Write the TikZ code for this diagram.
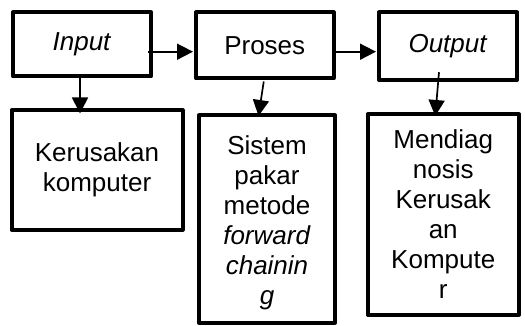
\documentclass[tikz,border=0pt]{standalone}
\usepackage{fontspec}
\setmainfont{Liberation Sans}
\usetikzlibrary{arrows.meta,calc}

\begin{document}
\begin{tikzpicture}[x=1pt,y=-1pt,
  box/.style={draw, line width=4pt, line join=round, rectangle, inner sep=0pt,
    align=center, font=\fontsize{26}{30}\selectfont},
  arr/.style={line width=1.7pt, -{Triangle[length=16pt,width=16pt]}}]
  \useasboundingbox (0,0) rectangle (525,326);

  % top row
  \node[box, minimum width=138pt, minimum height=64pt]   (inp) at (82,44.5)    {\textit{Input}};
  \node[box, minimum width=137.5pt, minimum height=66pt] (pro) at (264.75,45.5) {Proses};
  \node[box, minimum width=138pt, minimum height=67.5pt] (out) at (448,46.25)  {\textit{Output}};

  % bottom row
  \node[box, minimum width=171pt, minimum height=119pt]  (ker) at (97,170)     {Kerusakan\\komputer};
  \node[box, minimum width=136pt, minimum height=207pt]  (sis) at (267,219)    {};
  \node[font=\fontsize{26}{30}\selectfont, align=center, inner sep=0pt] (sistxt) at (267,223)
    {Sistem\\pakar\\metode\\\textit{forward}\\\textit{chainin}\\\textit{g}};
  \node[box, minimum width=151.5pt, minimum height=200pt] (dia) at (443.25,214.5)
    {Mendiag\\nosis\\Kerusak\\an\\Kompute\\r};

  % horizontal flow
  \draw[arr] ($(inp.east |- 0,51.7)+(-5,0)$) -- ($(pro.west |- 0,51.7)+(-1,0)$);
  \draw[arr] ($(pro.east |- 0,51.7)+(-1,0)$) -- ($(out.west |- 0,51.7)+(-1,0)$);

  % downward links
  \draw[arr] ($(inp.south)+(-2,-1)$) -- ($(ker.north)+(-17,5)$);
  \draw[arr] ($(pro.south)+(-1,1)$) -- ($(sis.north)+(-8.5,2.5)$);
  \draw[arr] ($(out.center)+(-9,26)$) -- ($(dia.north)+(-8,3.5)$);
\end{tikzpicture}
\end{document}
